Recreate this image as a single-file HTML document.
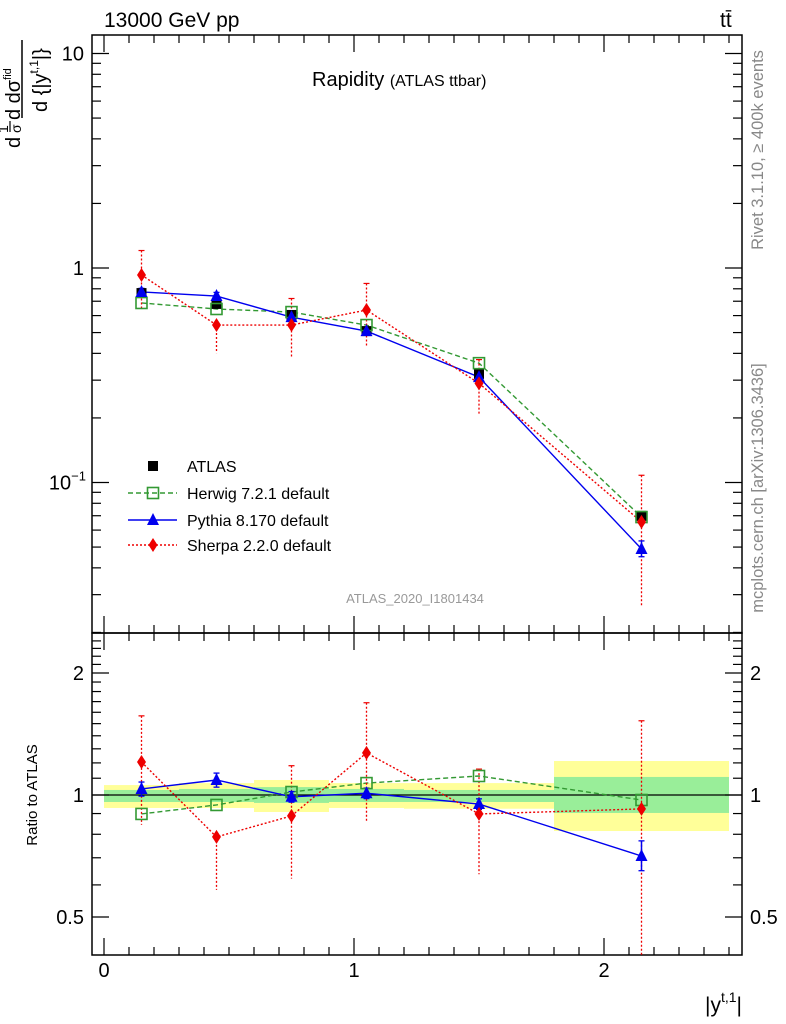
<!DOCTYPE html>
<html><head><meta charset="utf-8"><style>
html,body{margin:0;padding:0;background:#fff;}
svg{display:block;font-family:"Liberation Sans",sans-serif;}
</style></head><body>
<svg id="c" width="786" height="1024" viewBox="0 0 786 1024" xmlns="http://www.w3.org/2000/svg">
<g id="bands"></g>
<g id="axes"></g>
<g id="series"></g>
<text x="104" y="27" font-size="21">13000 GeV pp</text>
<text x="720" y="27" font-size="21">tt̄</text>
<text x="312" y="86" font-size="20">Rapidity <tspan font-size="16">(ATLAS ttbar)</tspan></text>
<text x="415" y="603" font-size="13" fill="#999" text-anchor="middle">ATLAS_2020_I1801434</text>
<text transform="translate(763,150) rotate(-90)" font-size="16.5" fill="#888" text-anchor="middle">Rivet 3.1.10, ≥ 400k events</text>
<text transform="translate(763,488) rotate(-90)" font-size="16.5" fill="#888" text-anchor="middle">mcplots.cern.ch [arXiv:1306.3436]</text>
<g>
<text transform="translate(20,148) rotate(-90)" font-size="20">d</text>
<text transform="translate(8,133) rotate(-90)" font-size="14">1</text>
<line x1="10" y1="121" x2="10" y2="132" stroke="#000" stroke-width="1.2"/>
<text transform="translate(21,133) rotate(-90)" font-size="14">σ</text>
<text transform="translate(20,120) rotate(-90)" font-size="20">d dσ<tspan font-size="11" dy="-9">fid</tspan></text>
<line x1="22" y1="118" x2="22" y2="40" stroke="#000" stroke-width="1.5"/>
<text transform="translate(47,112) rotate(-90)" font-size="20">d {|y<tspan font-size="12" dy="-9">t,1</tspan><tspan dy="9">|}</tspan></text>
</g>
<text transform="translate(37,795) rotate(-90)" font-size="15" text-anchor="middle">Ratio to ATLAS</text>
<text x="742" y="1012" font-size="21" text-anchor="end">|y<tspan font-size="14" dy="-10">t,1</tspan><tspan dy="10">|</tspan></text>
<g id="legend"></g>
</svg>
<script>
const binLo=[0,0.3,0.6,0.9,1.2,1.8];
const binHi=[0.3,0.6,0.9,1.2,1.8,2.5];
const xCenters=[0.15,0.45,0.75,1.05,1.5,2.15];
const atlas=[0.764,0.68,0.604,0.508,0.321,0.0699];
const herwig=[0.687,0.644,0.623,0.542,0.36,0.069];
const pythia=[0.773,0.74,0.59,0.508,0.31,0.049];
const sherpa=[0.928,0.542,0.542,0.637,0.29,0.0655];
const herwigRatio=[0.898,0.945,1.017,1.07,1.114,0.972];
const pythiaRatio=[1.035,1.089,0.99,1.01,0.95,0.707];
const sherpaRatio=[1.206,0.788,0.888,1.27,0.898,0.924];
const pythiaErrUp=[0.04,0.04,0.03,0.03,0.03,0.09];
const pythiaErrDn=[0.04,0.04,0.03,0.03,0.03,0.08];
const sherpaErrUp=[0.3,0.0,0.33,0.33,0.29,0.65];
const sherpaErrDn=[0.3,0.26,0.3,0.32,0.29,0.6];
const yellowUp=[1.058,1.07,1.089,1.07,1.07,1.213];
const yellowDn=[0.929,0.929,0.908,0.929,0.925,0.815];
const greenUp=[1.029,1.035,1.046,1.035,1.029,1.108];
const greenDn=[0.961,0.961,0.956,0.961,0.961,0.903];
const xTickLabels=["0","1","2"];
const mainTickVals=[10,1,0.1];
const ratioTickVals=[2,1,0.5];

const NS="http://www.w3.org/2000/svg";
const X=v=>104+250*v;
const L=92,R=742,T=35,M=633,B=955;
const YM=v=>268-214.5*Math.log10(v);
const YR=v=>795-122*Math.log2(v);
function el(tag,attrs,parent,txt){const e=document.createElementNS(NS,tag);for(const k in attrs)e.setAttribute(k,attrs[k]);if(txt!==undefined)e.textContent=txt;parent.appendChild(e);return e;}
const axes=document.getElementById('axes'),bands=document.getElementById('bands'),ser=document.getElementById('series'),leg=document.getElementById('legend');

for(let i=0;i<binLo.length;i++){
 let r=el('rect',{x:X(binLo[i]),y:YR(yellowUp[i]),width:X(binHi[i])-X(binLo[i]),height:YR(yellowDn[i])-YR(yellowUp[i]),fill:'#ffff99'},bands);
 
 
 let g=el('rect',{x:X(binLo[i]),y:YR(greenUp[i]),width:X(binHi[i])-X(binLo[i]),height:YR(greenDn[i])-YR(greenUp[i]),fill:'#99ee99'},bands);
 
 
}
el('rect',{x:L,y:T,width:R-L,height:M-T,fill:'none',stroke:'#000','stroke-width':1.5},axes);
el('rect',{x:L,y:M,width:R-L,height:B-M,fill:'none',stroke:'#000','stroke-width':1.5},axes);
el('line',{x1:L,y1:YR(1),x2:R,y2:YR(1),stroke:'#000','stroke-width':1.3},axes);
for(let k=0;k<=25;k++){const v=k/10;const x=X(v);if(x<L||x>R)continue;const maj=k%10==0;const len=maj?17:8;
 [[T,1],[M,-1],[M,1],[B,-1]].forEach(([y,d])=>el('line',{x1:x,y1:y,x2:x,y2:y+d*len,stroke:'#000','stroke-width':1.2},axes));}
xTickLabels.forEach((t,i)=>{const tx=el('text',{x:X(i),y:977,'font-size':20,'text-anchor':'middle'},axes,t);
 
 });
for(let e=-2;e<=1;e++)for(let m=1;m<=9;m++){const v=m*Math.pow(10,e);const y=YM(v);if(y<T||y>M)continue;const len=m==1?17:9;
 el('line',{x1:L,y1:y,x2:L+len,y2:y,stroke:'#000','stroke-width':1.2},axes);el('line',{x1:R,y1:y,x2:R-len,y2:y,stroke:'#000','stroke-width':1.2},axes);}
mainTickVals.forEach(v=>{const y=YM(v)+7;let tx;
 if(v==0.1){tx=el('text',{x:86,y:y,'font-size':20,'text-anchor':'end'},axes,'');el('tspan',{},tx,'10');el('tspan',{'font-size':13,dy:-9},tx,'−1');}
 else tx=el('text',{x:84,y:y,'font-size':20,'text-anchor':'end'},axes,String(v));
 
 });
for(let v=0.4;v<=2.5;v+=0.1){const vv=Math.round(v*10)/10;const y=YR(vv);if(y<M||y>B)continue;const maj=(vv==0.5||vv==1||vv==2);const len=maj?17:9;
 el('line',{x1:L,y1:y,x2:L+len,y2:y,stroke:'#000','stroke-width':1.2},axes);el('line',{x1:R,y1:y,x2:R-len,y2:y,stroke:'#000','stroke-width':1.2},axes);}
ratioTickVals.forEach(v=>{const y=YR(v)+7;
 const a=el('text',{x:84,y:y,'font-size':20,'text-anchor':'end'},axes,String(v));
 
 
 const b=el('text',{x:750,y:y,'font-size':20},axes,String(v));
 
 });

function marker(kind,x,y,p){
 if(kind=='sq')return el('rect',{x:x-5,y:y-5,width:10,height:10,fill:'#000'},p);
 if(kind=='osq')return el('rect',{x:x-5.5,y:y-5.5,width:11,height:11,fill:'none',stroke:'#339933','stroke-width':1.6},p);
 if(kind=='tri')return el('polygon',{points:`${x},${y-7} ${x-6},${y+5} ${x+6},${y+5}`,fill:'#0000ee'},p);
 return el('polygon',{points:`${x},${y-7} ${x-4.5},${y} ${x},${y+7} ${x+4.5},${y}`,fill:'#ee0000'},p);
}
const clipM=el('clipPath',{id:'cm'},ser);el('rect',{x:L,y:T,width:R-L,height:M-T},clipM);
const clipR=el('clipPath',{id:'cr'},ser);el('rect',{x:L,y:M,width:R-L,height:B-M},clipR);
const gM=el('g',{'clip-path':'url(#cm)'},ser);const gR=el('g',{'clip-path':'url(#cr)'},ser);
function drawPanel(g,Y,h,p,s,a){
 const pts=(vals)=>xCenters.map((x,i)=>X(x)+','+Y(vals[i])).join(' ');
 let e;
 e=el('polyline',{points:pts(h),fill:'none',stroke:'#339933','stroke-width':1.4,'stroke-dasharray':'5,3'},g);
 
 
 e=el('polyline',{points:pts(p),fill:'none',stroke:'#0000ee','stroke-width':1.4},g);
 
 
 e=el('polyline',{points:pts(s),fill:'none',stroke:'#ee0000','stroke-width':1.4,'stroke-dasharray':'2,2'},g);
 
 
 xCenters.forEach((x,i)=>{
  const sh=s[i]*(1+sherpaErrUp[i]),sl=s[i]*Math.max(1-sherpaErrDn[i],0.01);
  el('line',{x1:X(x),y1:Y(sh),x2:X(x),y2:Y(sl),stroke:'#ee0000','stroke-width':1.3,'stroke-dasharray':'2,2'},g);
  el('line',{x1:X(x)-3,y1:Y(sh),x2:X(x)+3,y2:Y(sh),stroke:'#ee0000','stroke-width':1.2},g);
  const ph=p[i]*(1+pythiaErrUp[i]),pl=p[i]*(1-pythiaErrDn[i]);
  el('line',{x1:X(x),y1:Y(ph),x2:X(x),y2:Y(pl),stroke:'#0000ee','stroke-width':1.5},g);
  el('line',{x1:X(x)-3,y1:Y(ph),x2:X(x)+3,y2:Y(ph),stroke:'#0000ee','stroke-width':1.3},g);
  el('line',{x1:X(x)-3,y1:Y(pl),x2:X(x)+3,y2:Y(pl),stroke:'#0000ee','stroke-width':1.3},g);
  if(a){let m=marker('sq',X(x),Y(a[i]),g);}
  let m1=marker('osq',X(x),Y(h[i]),g);
  let m2=marker('tri',X(x),Y(p[i]),g);
  let m3=marker('dia',X(x),Y(s[i]),g);
 });
}
drawPanel(gM,YM,herwig,pythia,sherpa,atlas);
drawPanel(gR,YR,herwigRatio,pythiaRatio,sherpaRatio,null);

const entries=[['sq','ATLAS',null,null],['osq','Herwig 7.2.1 default','#339933','5,3'],['tri','Pythia 8.170 default','#0000ee',''],['dia','Sherpa 2.2.0 default','#ee0000','2,2']];
const rowsY=[466,493,520,545];
entries.forEach((e,i)=>{const y=rowsY[i];
 if(e[2])el('line',{x1:128,y1:y,x2:177,y2:y,stroke:e[2],'stroke-width':1.4,'stroke-dasharray':e[3]},leg);
 marker(e[0],153,y,leg);
 const t=el('text',{x:187,y:y+6,'font-size':16},leg,e[1]);
 
 });
</script>
</body></html>
